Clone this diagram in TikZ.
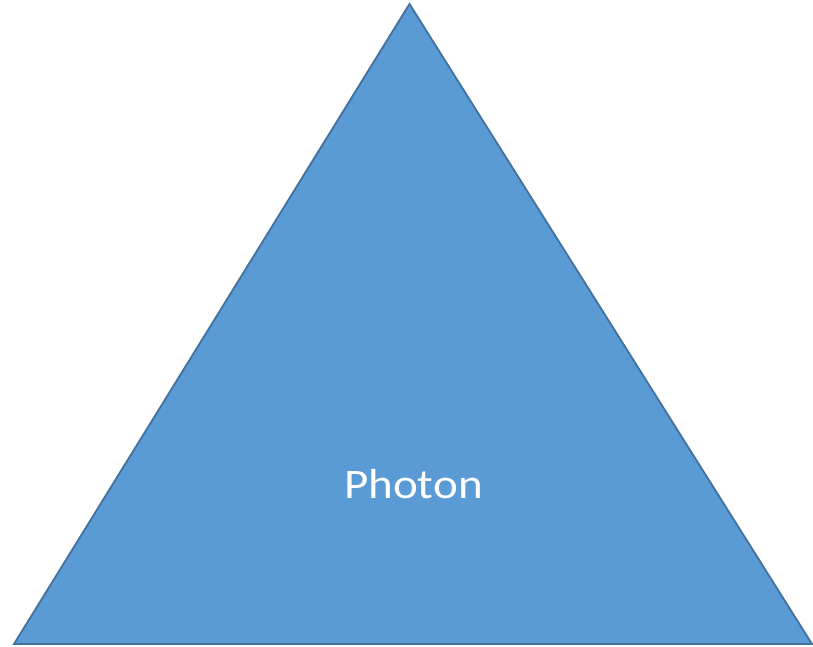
\documentclass[tikz,border=0pt]{standalone}
\usepackage{fontspec}
\setmainfont{Carlito}
\definecolor{photonfill}{HTML}{5B9BD5}
\definecolor{photonline}{HTML}{41719C}
\tikzset{photonlabel/.style={text=white, font=\fontsize{42}{48}\selectfont, anchor=base, xscale=1.12}}
\begin{document}
\begin{tikzpicture}[x=1pt, y=1pt]
    \useasboundingbox (0,0) rectangle (813,647);
    \coordinate (apex) at (409.5,643);
    \coordinate (left) at (14,3);
    \coordinate (right) at (812,3);
    \filldraw[fill=photonfill, draw=photonline, line width=1.8pt, line join=miter] (left) -- (apex) -- (right) -- cycle;
    \node[photonlabel] (photon) at (413.5,148.5) {Photon};
\end{tikzpicture}
\end{document}
